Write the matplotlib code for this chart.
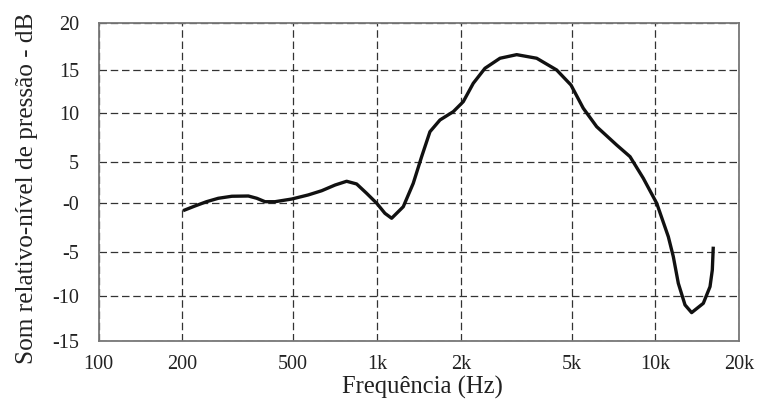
import numpy as np
import matplotlib
matplotlib.use("Agg")
import matplotlib.pyplot as plt
from matplotlib.ticker import NullLocator

# ---- data ----
freq_hz = [201, 222, 244, 269, 301, 345, 370, 396, 430, 494, 566, 633, 707, 778, 845,
           918, 998, 1068, 1129, 1243, 1350, 1447, 1550, 1684, 1880, 2042, 2218, 2444,
           2767, 3177, 3749, 4422, 4978, 5511, 6158, 7266, 8115, 9057, 10120, 11140,
           11610, 12100, 12790, 13510, 14880, 15730, 16030, 16160]
level_db = [-0.81, -0.33, 0.12, 0.54, 0.79, 0.82, 0.54, 0.12, 0.12, 0.45, 0.95, 1.47,
            2.17, 2.63, 2.30, 1.15, -0.06, -1.08, -1.58, -0.41, 2.38, 5.54, 8.07, 9.26,
            10.12, 11.29, 13.44, 15.18, 16.24, 16.62, 16.24, 15.0, 13.24, 10.52, 8.58,
            6.72, 5.54, 3.0, -0.06, -3.45, -5.53, -8.56, -11.0, -11.86, -10.82, -8.94,
            -7.05, -4.46]

x_ticks = [100, 200, 500, 1000, 2000, 5000, 10000, 20000]
x_tick_labels = ["100", "200", "500", "1k", "2k", "5k", "10k", "20k"]
y_ticks = [-15, -10, -5, 0, 5, 10, 15, 20]
y_tick_labels = ["-15", "-10", "-5", "-0", "5", "10", "15", "20"]
# relative drawn positions of the y gridlines (the original scale is slightly uneven)
y_tick_pos = [0.0, 44.7, 88.7, 138.0, 178.7, 228.0, 270.7, 318.0]

plt.rcParams['font.family'] = ['Liberation Serif', 'DejaVu Serif']

fig = plt.figure(figsize=(7.58, 4.05), dpi=100)
ax = fig.add_axes([0.1302, 0.1588, 0.975 - 0.1302, 0.944 - 0.1588])

tv = np.array(y_ticks, dtype=float)
tp = np.array(y_tick_pos, dtype=float)
def fwd(v):
    return np.interp(v, tv, tp)
def inv(p):
    return np.interp(p, tp, tv)

ax.set_xscale('log')
ax.set_yscale('function', functions=(fwd, inv))

ax.plot(freq_hz, level_db, color='#111111', linewidth=2.4,
        solid_joinstyle='round', solid_capstyle='butt', zorder=3)

ax.set_xlim(100, 20000)
ax.set_ylim(-15, 20)
ax.set_xticks(x_ticks)
ax.set_xticklabels(x_tick_labels)
ax.xaxis.set_minor_locator(NullLocator())
ax.set_yticks(y_ticks)
ax.set_yticklabels(y_tick_labels)
ax.yaxis.set_minor_locator(NullLocator())

ax.grid(True, which='major', color='#333333', linestyle=(0, (6, 3)), linewidth=0.9)
ax.tick_params(axis='both', length=0, labelsize=14.5, colors='#222222')
ax.tick_params(axis='x', pad=10)
ax.tick_params(axis='y', pad=14)
for s in ax.spines.values():
    s.set_color('#777777')
    s.set_linewidth(1.3)

ax.set_xlabel('Frequência (Hz)', fontsize=17.7, color='#222222')
ax.set_ylabel('Som relativo-nível de pressão - dB', fontsize=18.2, color='#222222')
ax.yaxis.set_label_coords(-0.095, 0.48)
ax.xaxis.set_label_coords(0.505, -0.11)

fig.savefig('out.png', dpi=100)
